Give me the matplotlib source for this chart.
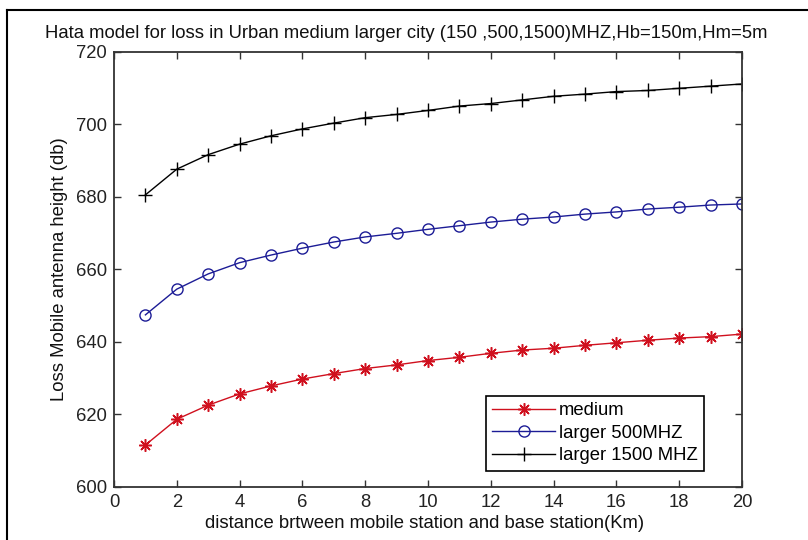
import matplotlib
matplotlib.use("Agg")
import matplotlib.pyplot as plt
from matplotlib.lines import Line2D

plt.rcParams['font.family'] = ['Liberation Sans', 'DejaVu Sans']

distance_km = list(range(1, 21))
loss_medium = [611.5, 618.6, 622.5, 625.6, 627.8, 629.7, 631.2, 632.6, 633.6, 634.8,
               635.7, 636.8, 637.7, 638.2, 639.0, 639.7, 640.4, 641.0, 641.4, 642.1]
loss_larger_500 = [647.4, 654.5, 658.7, 661.8, 663.9, 665.8, 667.5, 668.9, 669.9, 671.0,
                   672.0, 673.0, 673.8, 674.4, 675.2, 675.8, 676.6, 677.1, 677.7, 678.0]
loss_larger_1500 = [680.5, 687.6, 691.6, 694.5, 696.8, 698.7, 700.3, 701.8, 702.7, 703.8,
                    705.0, 705.7, 706.7, 707.7, 708.3, 709.0, 709.3, 709.9, 710.5, 711.1]
series_labels = ['medium', 'larger 500MHZ', 'larger 1500 MHZ']
x_ticks = list(range(0, 21, 2))
y_ticks = list(range(600, 721, 20))

FS = 13.3

fig = plt.figure(figsize=(8.08, 5.40), dpi=100)
ax = fig.add_axes([114/808, 1-486.7/540, 628/808, 435/540])

ax.plot(distance_km, loss_medium, color='#d0101e', marker=(8, 2, 0), markersize=9,
        markeredgewidth=1.1, linewidth=1.0, label=series_labels[0])
ax.plot(distance_km, loss_larger_500, color='#1c1c96', marker='o', markersize=8,
        markerfacecolor='none', markeredgewidth=1.0, linewidth=1.0, label=series_labels[1])
ax.plot(distance_km, loss_larger_1500, color='black', marker='+', markersize=10,
        markeredgewidth=1.0, linewidth=1.0, label=series_labels[2])

ax.set_xlim(0, 20)
ax.set_ylim(600, 720)
ax.set_xticks(x_ticks)
ax.set_yticks(y_ticks)
ax.tick_params(direction='in', length=5, width=1, top=True, right=True,
               labelsize=FS, colors='#333333', labelcolor='#222222', pad=5)
for s in ax.spines.values():
    s.set_linewidth(1.3)
    s.set_color('#333333')

fig.text(406/808, 1-33/540,
         'Hata model for loss in Urban medium larger city (150 ,500,1500)MHZ,Hb=150m,Hm=5m',
         fontsize=FS, color='#111111', ha='center', va='center')
fig.text(425/808, 1-523/540, 'distance brtween mobile station and base station(Km)',
         fontsize=FS, color='#111111', ha='center', va='center')
ax.set_ylabel('Loss Mobile antenna height (db)', fontsize=FS, color='#111111', labelpad=6)

leg = ax.legend(loc='lower right', bbox_to_anchor=(0.940, 0.0368), fontsize=FS,
                handlelength=3.4, handletextpad=0.2, labelspacing=0.3,
                borderpad=0.35, borderaxespad=0, fancybox=False, framealpha=1,
                edgecolor='black')
leg.get_frame().set_linewidth(1.2)

# outer screenshot frame
fig.add_artist(Line2D([7/808, 7/808], [0, 1-9.5/540], transform=fig.transFigure,
                      color='black', linewidth=1.5))
fig.add_artist(Line2D([7/808, 1], [1-9.5/540, 1-9.5/540], transform=fig.transFigure,
                      color='black', linewidth=1.5))

fig.savefig('out.png', dpi=100)
